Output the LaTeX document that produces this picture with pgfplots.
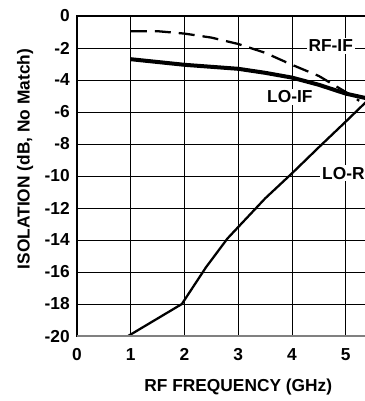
\documentclass[border=0pt]{standalone}
\usepackage{pgfplots}
\pgfplotsset{compat=1.18}
\usepackage{fontspec}
\setmainfont{Liberation Sans}
\begin{document}
\begin{tikzpicture}
\begin{axis}[
  x=40.3pt, y=12pt,
  xmin=0, xmax=6, ymin=-20, ymax=0,
  xtick={0,1,2,3,4,5}, ytick={-20,-18,...,0},
  extra x ticks={6}, extra x tick labels={},
  grid=major, major grid style={black, line width=0.75pt},
  axis line style={black, line width=1pt},
  tick style={draw=none},
  /pgf/number format/assume math mode=true,
  ticklabel style={font=\fontsize{13}{15}\selectfont\bfseries},
  yticklabel style={xshift=-2pt},
  xticklabel style={yshift=-6pt},
]
\addplot[black, line width=1.7pt, dash pattern=on 12pt off 6pt] coordinates {(1,-0.95)(1.5,-0.95)(2,-1.1)(2.5,-1.35)(3,-1.75)(3.5,-2.3)(4,-3.05)(4.5,-3.75)(5,-4.75)(5.25,-5.3)};
\addplot[black, line width=3pt] coordinates {(1,-2.7)(2,-3.05)(3,-3.3)(3.5,-3.55)(4,-3.85)(4.5,-4.3)(5,-4.85)(5.4,-5.15)};
\addplot[black, line width=1.7pt] coordinates {(0.95,-20)(1.95,-18)(2.4,-15.7)(2.8,-13.9)(3.5,-11.4)(4,-9.83)(4.5,-8.2)(5,-6.6)(5.4,-5.3)};
\draw[gray, line width=1.6pt] (axis cs:0,-20) -- (axis cs:6,-20);
\node[fill=white, inner sep=1.5pt, font=\fontsize{13}{15}\selectfont\bfseries] at (axis cs:4.72,-1.85) {RF-IF};
\node[fill=white, inner sep=1.5pt, font=\fontsize{13}{15}\selectfont\bfseries] at (axis cs:3.96,-5.04) {LO-IF};
\node[fill=white, inner sep=1.5pt, anchor=west, font=\fontsize{13}{15}\selectfont\bfseries] at (axis cs:4.52,-9.83) {LO-RF};
\coordinate (bbl) at (axis cs:-1.434,-24.06);
\coordinate (btr) at (axis cs:5.345,1.0);
\coordinate (xl) at (axis cs:3,-23.2);
\coordinate (yl) at (axis cs:-0.968,-8.94);
\end{axis}
\node[font=\fontsize{13}{15}\selectfont\bfseries] at (xl) {RF FREQUENCY (GHz)};
\node[rotate=90, font=\fontsize{13}{15}\selectfont\bfseries] at (yl) {ISOLATION (dB, No Match)};
\pgfresetboundingbox
\path[use as bounding box] (bbl) rectangle (btr);
\end{tikzpicture}
\end{document}
